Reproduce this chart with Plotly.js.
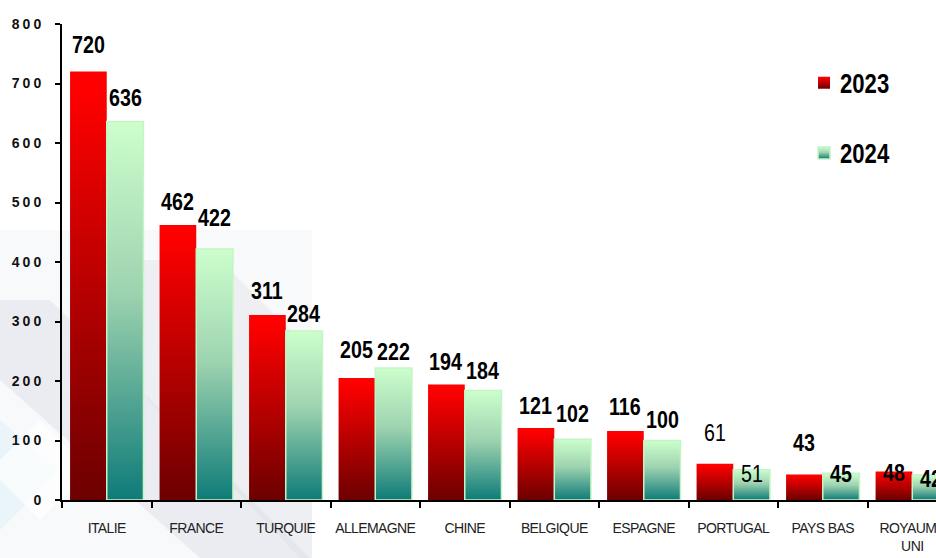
<!DOCTYPE html>
<html>
<head>
<meta charset="utf-8">
<script src="https://cdn.plot.ly/plotly-3.0.1.min.js"></script>
<style>
  html, body { margin: 0; padding: 0; background: #ffffff; overflow: hidden; }
  #chart { width: 936px; height: 558px; }
  .ytick text { letter-spacing: 3px; }
  .xtick text { letter-spacing: -0.6px; }
  .annotation-text { transform-box: fill-box; transform-origin: 50% 50%; transform: scaleX(0.82); }
  .legendtext { transform-box: fill-box; transform-origin: 0% 50%; transform: translateX(-4px) scaleX(0.82); }
</style>
</head>
<body>
<svg width="0" height="0" style="position:absolute">
  <defs>
    <linearGradient id="grad0" x1="0" y1="0" x2="0" y2="1">
      <stop offset="0" stop-color="#ff0000"/>
      <stop offset="0.04" stop-color="#ff0000"/>
      <stop offset="1" stop-color="#6c0000"/>
    </linearGradient>
    <linearGradient id="grad1" x1="0" y1="0" x2="0" y2="1">
      <stop offset="0" stop-color="#ccffcc"/>
      <stop offset="0.45" stop-color="#9ed3b0"/>
      <stop offset="1" stop-color="#0e7b78"/>
    </linearGradient>
  </defs>
</svg>
<div id="chart"></div>
<script>
// ---- data ----
const categories = ['ITALIE', 'FRANCE', 'TURQUIE', 'ALLEMAGNE', 'CHINE', 'BELGIQUE', 'ESPAGNE', 'PORTUGAL', 'PAYS BAS', 'ROYAUME UNI'];
const tickLabels = ['ITALIE', 'FRANCE', 'TURQUIE', 'ALLEMAGNE', 'CHINE', 'BELGIQUE', 'ESPAGNE', 'PORTUGAL', 'PAYS BAS', 'ROYAUME<br>UNI'];
const seriesNames = ['2023', '2024'];
const values2023 = [720, 462, 311, 205, 194, 121, 116, 61, 43, 48];
const values2024 = [636, 422, 284, 222, 184, 102, 100, 51, 45, 42];
const yTickVals = [0, 100, 200, 300, 400, 500, 600, 700, 800];

// ---- style (label placement as in the reference) ----
const labelLift2023 = [27, 24, 24, 29, 23, 23, 24, 31, 32, -1];
const labelLift2024 = [24, 31, 18, 16, 20, 26, 21, -4, 0, -3];
const plainLabelIdx = [7];

const W = 936, H = 558;
const M = {l: 62, r: 0, t: 24, b: 58};
const xRange = [-0.5, 9.265];
const bargap = 0.18;
const catPx = (W - M.l - M.r) / (xRange[1] - xRange[0]);
const barPx = catPx * (1 - bargap) / 2;

const sans = 'Liberation Sans, Arial, sans-serif';

const traces = [
  {
    type: 'bar', name: seriesNames[0], x: categories, y: values2023,
    marker: {color: '#ff0000', line: {width: 0}},
    legendgroup: 'a', hoverinfo: 'x+y'
  },
  {
    type: 'bar', name: seriesNames[1], x: categories, y: values2024,
    marker: {color: '#ccffcc', line: {color: '#c4f5c4', width: 1.5}},
    legendgroup: 'b', hoverinfo: 'x+y'
  }
];

const annotations = [];
[values2023, values2024].forEach((vals, s) => {
  const lifts = s === 0 ? labelLift2023 : labelLift2024;
  vals.forEach((v, i) => {
    annotations.push({
      x: categories[i], y: v, xref: 'x', yref: 'y',
      text: String(v), showarrow: false,
      xanchor: 'center', yanchor: 'middle',
      xshift: (s === 0 ? -1 : 1) * barPx / 2,
      yshift: lifts[i],
      font: {family: sans, size: 24, color: '#000000',
             weight: plainLabelIdx.includes(i) ? 'normal' : 'bold'}
    });
  });
});

// faint background watermark
function P(px, py) { return [(px - M.l) / (W - M.l - M.r), (H - M.b - py) / (H - M.t - M.b)]; }
function poly(pts) {
  return 'M' + pts.map(p => P(p[0], p[1]).join(',')).join('L') + 'Z';
}
const shapes = [
  {type: 'path', xref: 'paper', yref: 'paper', layer: 'below', line: {width: 0},
   fillcolor: 'rgba(232,234,240,0.3)', path: poly([[0, 230], [312, 230], [312, 558], [0, 558]])},
  {type: 'path', xref: 'paper', yref: 'paper', layer: 'below', line: {width: 0},
   fillcolor: 'rgba(212,215,228,0.38)', path: poly([[0, 300], [50, 300], [310, 558], [200, 558], [0, 380]])},
  {type: 'path', xref: 'paper', yref: 'paper', layer: 'below', line: {width: 0},
   fillcolor: 'rgba(212,215,228,0.28)', path: poly([[130, 260], [220, 260], [312, 352], [312, 558], [300, 558], [130, 380]])},
  {type: 'path', xref: 'paper', yref: 'paper', layer: 'below', line: {width: 0},
   fillcolor: 'rgba(220,242,248,0.5)', path: poly([[0, 420], [60, 470], [0, 530]])},
  {type: 'path', xref: 'paper', yref: 'paper', layer: 'below', line: {width: 0},
   fillcolor: 'rgba(255,255,255,0.7)', path: poly([[40, 420], [90, 470], [40, 520], [-10, 470]])}
];

const layout = {
  width: W, height: H,
  margin: M,
  paper_bgcolor: '#ffffff',
  plot_bgcolor: 'rgba(0,0,0,0)',
  barmode: 'group', bargap: bargap, bargroupgap: 0,
  showlegend: true,
  legend: {
    x: 0.849, y: 0.927, xanchor: 'left', yanchor: 'top',
    bgcolor: 'rgba(0,0,0,0)', borderwidth: 0,
    tracegroupgap: 32, itemwidth: 30,
    font: {family: sans, size: 27, color: '#000000', weight: 'bold'}
  },
  xaxis: {
    type: 'category', range: xRange,
    tickvals: categories, ticktext: tickLabels, tickangle: 0,
    tickson: 'boundaries', ticks: 'outside', ticklen: 6, tickwidth: 2, tickcolor: '#000000',
    showline: true, linecolor: '#000000', linewidth: 2,
    showgrid: false, zeroline: false,
    ticklabelstandoff: 14,
    tickfont: {family: sans, size: 14, color: '#222222'}
  },
  yaxis: {
    range: [0, 800], tickvals: yTickVals,
    ticks: 'outside', ticklen: 5, tickwidth: 2, tickcolor: '#000000',
    showline: true, linecolor: '#000000', linewidth: 2,
    showgrid: false, zeroline: false,
    ticklabelstandoff: 8,
    tickfont: {family: sans, size: 14, color: '#111111', weight: 'bold'}
  },
  annotations: annotations,
  shapes: shapes
};

const gd = document.getElementById('chart');
function applyGrad() {
  gd.querySelectorAll('.barlayer .trace').forEach((t, i) => {
    t.querySelectorAll('path').forEach(p => { p.style.fill = 'url(#grad' + i + ')'; });
  });
  gd.querySelectorAll('.legend .traces').forEach((t, i) => {
    t.querySelectorAll('.legendpoints path').forEach(p => { p.style.fill = 'url(#grad' + i + ')'; });
  });
}
Plotly.newPlot(gd, traces, layout, {displayModeBar: false, staticPlot: true}).then(() => {
  applyGrad();
  gd.on('plotly_afterplot', applyGrad);
});
</script>
</body>
</html>
